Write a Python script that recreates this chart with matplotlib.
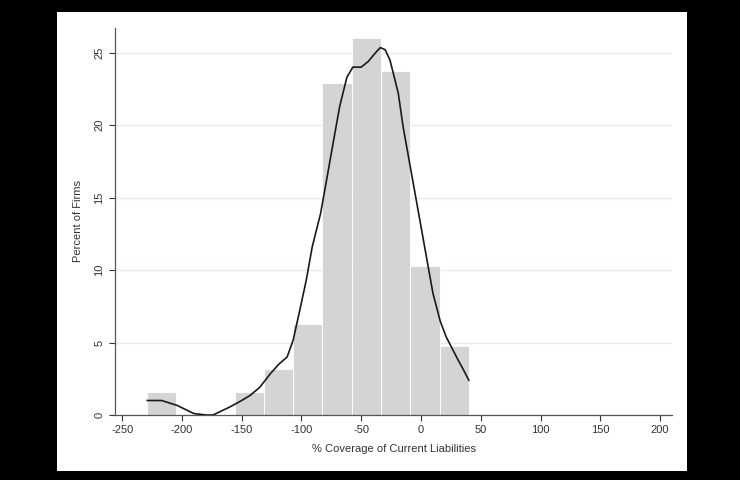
"""
Histograma de cobertura de passivo circulante com curva de densidade (estilo Stata).
Gera out.png.
"""

import matplotlib
matplotlib.use("Agg")
import matplotlib.pyplot as plt
from matplotlib.patches import Rectangle

# bordas dos bins e percentual de firmas em cada um
bin_edges = [-229.5, -205, -180.5, -156, -131.5, -107, -82.5, -58, -33.5, -9, 15.5, 40]
pct_firms = [1.6, 0, 0, 1.6, 3.2, 6.3, 22.9, 26.0, 23.7, 10.25, 4.75]

# curva de densidade
kde_x = [-229, -217, -204, -190, -180, -174, -160, -150, -143, -135, -126, -119,
         -112, -107, -102, -96, -91, -84, -79, -73, -68, -62, -57, -50, -44,
         -38, -34, -30, -26, -19, -15, -10, -5, 0, 5, 10, 16, 21, 26, 31, 35, 40]
kde_y = [1.0, 1.0, 0.66, 0.1, 0.0, 0.0, 0.55, 1.0, 1.35, 1.9, 2.85, 3.5,
         4.0, 5.15, 7.0, 9.3, 11.6, 13.9, 16.2, 19.0, 21.3, 23.3, 24.0, 24.0, 24.4,
         25.0, 25.35, 25.2, 24.5, 22.2, 19.9, 17.6, 15.3, 13.0, 10.7, 8.4, 6.5,
         5.4, 4.6, 3.8, 3.2, 2.4]

x_ticks = list(range(-250, 201, 50))
y_ticks = [0, 5, 10, 15, 20, 25]

plt.rcParams["font.family"] = ["Liberation Sans", "DejaVu Sans"]
plt.rcParams["axes.unicode_minus"] = False

W, H = 740, 480
fig = plt.figure(figsize=(W / 100, H / 100), dpi=100, facecolor="black")
fig.patches.append(Rectangle((57 / W, 1 - 471 / H), 630 / W, 459 / H,
                             transform=fig.transFigure, facecolor="white",
                             edgecolor="none", zorder=-10))

ax = fig.add_axes([115 / W, 1 - 415 / H, (672 - 115) / W, (415 - 28) / H])
ax.set_facecolor("white")

lefts = bin_edges[:-1]
widths = [b - a for a, b in zip(bin_edges[:-1], bin_edges[1:])]
ax.bar(lefts, pct_firms, width=widths, align="edge", color="#d4d4d4",
       edgecolor="white", linewidth=0.6, zorder=2)
ax.plot(kde_x, kde_y, color="#1a1a1a", linewidth=1.2, zorder=3,
        solid_joinstyle="round")

ax.set_xlim(-256, 210)
ax.set_ylim(0, 26.7)
ax.set_xticks(x_ticks)
ax.set_yticks(y_ticks)
for t in y_ticks[1:]:
    ax.axhline(t, color="#e3eeee", linewidth=1.0, zorder=1)

ax.tick_params(axis="both", labelsize=8, colors="#333333", length=4, width=0.8,
               direction="out")
plt.setp(ax.get_yticklabels(), rotation=90, va="center")

for lado in ("top", "right"):
    ax.spines[lado].set_visible(False)
for lado in ("left", "bottom"):
    ax.spines[lado].set_color("#555555")
    ax.spines[lado].set_linewidth(0.9)

ax.set_xlabel("% Coverage of Current Liabilities", fontsize=8, color="#333333",
              labelpad=6)
ax.set_ylabel("Percent of Firms", fontsize=8, color="#333333", labelpad=8)

fig.savefig("out.png", dpi=100, facecolor="black")
